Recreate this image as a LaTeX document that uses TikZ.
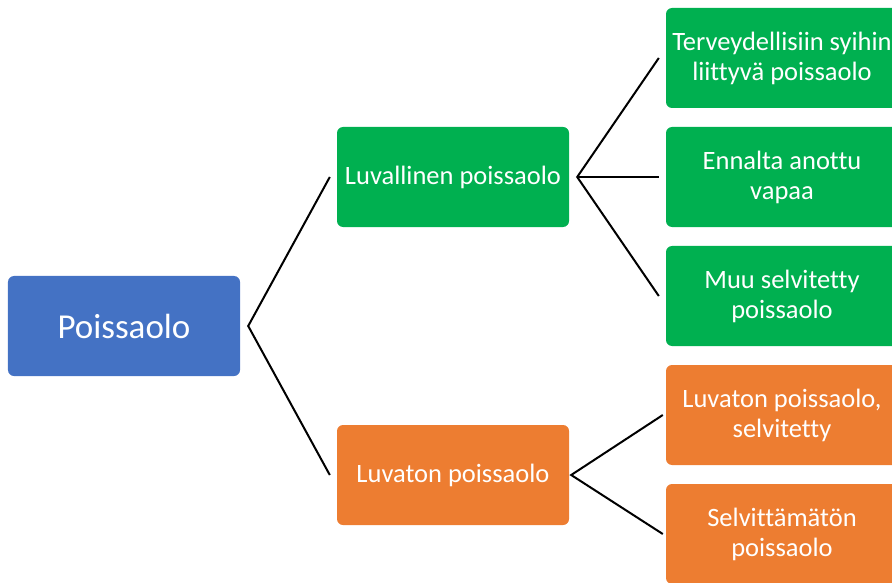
\documentclass[tikz,border=0pt]{standalone}
\usepackage{fontspec}
\setmainfont{Carlito}[Ligatures={NoCommon}]
\definecolor{cblue}{HTML}{4472C4}
\definecolor{cgreen}{HTML}{00B050}
\definecolor{corange}{HTML}{ED7D31}
\tikzset{
  box/.style={rounded corners=6bp, minimum width=232bp, minimum height=100bp, text=white, align=center, font=\fontsize{26.5bp}{30bp}\selectfont, inner sep=0pt},
  gbox/.style={box, fill=cgreen},
  obox/.style={box, fill=corange},
  link/.style={line width=2bp, black}
}
\begin{document}
\begin{tikzpicture}[x=1bp,y=-1bp]
\useasboundingbox (0,0) rectangle (892,583);
\node[box, fill=cblue, font=\fontsize{35bp}{40bp}\selectfont] (root) at (124,326) {Poissaolo};
\node[gbox] (luv) at (453,177) {Luvallinen poissaolo};
\node[obox] (luvaton) at (453,475) {Luvaton poissaolo};
\node[gbox] (g1) at (782,58) {Terveydellisiin syihin\\liittyvä poissaolo};
\node[gbox] (g2) at (782,177) {Ennalta anottu\\vapaa};
\node[gbox] (g3) at (782,296) {Muu selvitetty\\poissaolo};
\node[obox] (o1) at (782,415) {Luvaton poissaolo,\\selvitetty};
\node[obox] (o2) at (782,534) {Selvittämätön\\poissaolo};
\draw[link] ([xshift=-7bp]luv.west) -- ([xshift=8bp]root.east) -- ([xshift=-7bp]luvaton.west);
\draw[link] ([xshift=-7bp]g1.west) -- ([xshift=8bp]luv.east) -- ([xshift=-7bp]g3.west);
\draw[link] ([xshift=8bp]luv.east) -- ([xshift=-7bp]g2.west);
\draw[link] ([xshift=-3bp]o1.west) -- ([xshift=2bp]luvaton.east) -- ([xshift=-3bp]o2.west);
\end{tikzpicture}
\end{document}
